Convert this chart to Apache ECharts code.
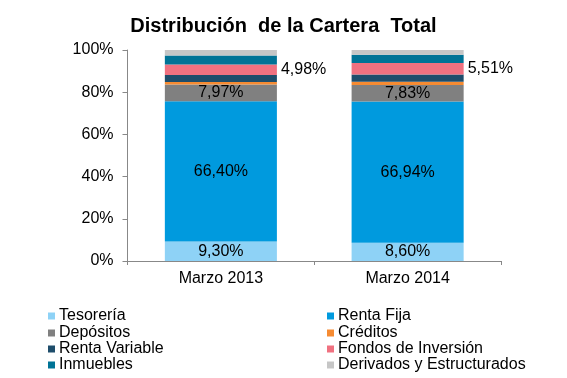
<!DOCTYPE html>
<html><head><meta charset="utf-8">
<script src="https://cdn.jsdelivr.net/npm/echarts@6/dist/echarts.min.js"></script>
<style>html,body{margin:0;padding:0;background:#fff}#c{width:567px;height:378px}</style>
</head><body><div id="c"></div>
<script>
const categories = ['Marzo 2013', 'Marzo 2014'];
const yTicks = ['0%', '20%', '40%', '60%', '80%', '100%'];
const tesoreria = [9.30, 8.60];
const rentaFija = [66.40, 66.94];
const depositos = [7.97, 7.83];
const creditos = [1.2, 1.6];
const rentaVariable = [3.3, 3.4];
const fondos = [4.98, 5.51];
const inmuebles = [4.2, 3.9];
const derivados = [2.65, 2.22];

const font = 'Liberation Sans, Arial, sans-serif';
const fmt = p => p.value.toFixed(2).replace('.', ',') + '%';
const seriesDefs = [
  {name: 'Tesorería', data: tesoreria, color: '#8ed2f6', label: 'inside'},
  {name: 'Renta Fija', data: rentaFija, color: '#009ade', label: 'inside'},
  {name: 'Depósitos', data: depositos, color: '#808080', label: 'inside'},
  {name: 'Créditos', data: creditos, color: '#f68b32'},
  {name: 'Renta Variable', data: rentaVariable, color: '#1e4d6b'},
  {name: 'Fondos de Inversión', data: fondos, color: '#f07180', label: 'right'},
  {name: 'Inmuebles', data: inmuebles, color: '#007396'},
  {name: 'Derivados y Estructurados', data: derivados, color: '#c6c6c6'}
];
const series = seriesDefs.map(s => ({
  name: s.name, type: 'bar', stack: 'total', data: s.data, barWidth: '60%',
  itemStyle: {color: s.color},
  label: s.label ? {show: true, position: s.label, distance: 4, formatter: fmt,
    color: '#000', fontSize: 16, fontFamily: font} : {show: false},
  emphasis: {disabled: true}
}));
const legendPos = [[48, 308], [327, 308], [48, 325], [327, 325], [48, 341], [327, 341], [48, 357], [327, 357]];
const legends = seriesDefs.map((s, i) => ({
  data: [s.name], left: legendPos[i][0], top: legendPos[i][1],
  itemWidth: 7, itemHeight: 7, itemGap: 4, padding: 0, icon: 'rect',
  selectedMode: false,
  textStyle: {fontSize: 16, fontFamily: font, color: '#000', padding: [0, 0, 0, -1]}
}));
const chart = echarts.init(document.getElementById('c'));
chart.setOption({
  animation: false,
  title: {text: 'Distribución  de la Cartera  Total', left: 'center', top: 11,
    textStyle: {fontSize: 20, fontWeight: 'bold', fontFamily: font, color: '#000'}},
  legend: legends,
  grid: {left: 127.5, right: 66, top: 50, bottom: 117},
  xAxis: {type: 'category', data: categories,
    axisLine: {lineStyle: {color: '#888'}},
    axisTick: {show: true, alignWithLabel: false, length: 4, lineStyle: {color: '#888'}},
    axisLabel: {fontSize: 16, fontFamily: font, color: '#000', margin: 10}},
  yAxis: {type: 'value', min: 0, max: 100, interval: 20,
    axisLine: {show: true, lineStyle: {color: '#888'}},
    axisTick: {show: true, length: 5, lineStyle: {color: '#888'}},
    splitLine: {show: false},
    axisLabel: {fontSize: 16, fontFamily: font, color: '#000', margin: 14,
      formatter: v => yTicks[Math.round(v / 20)]}},
  series: series
});
</script></body></html>
